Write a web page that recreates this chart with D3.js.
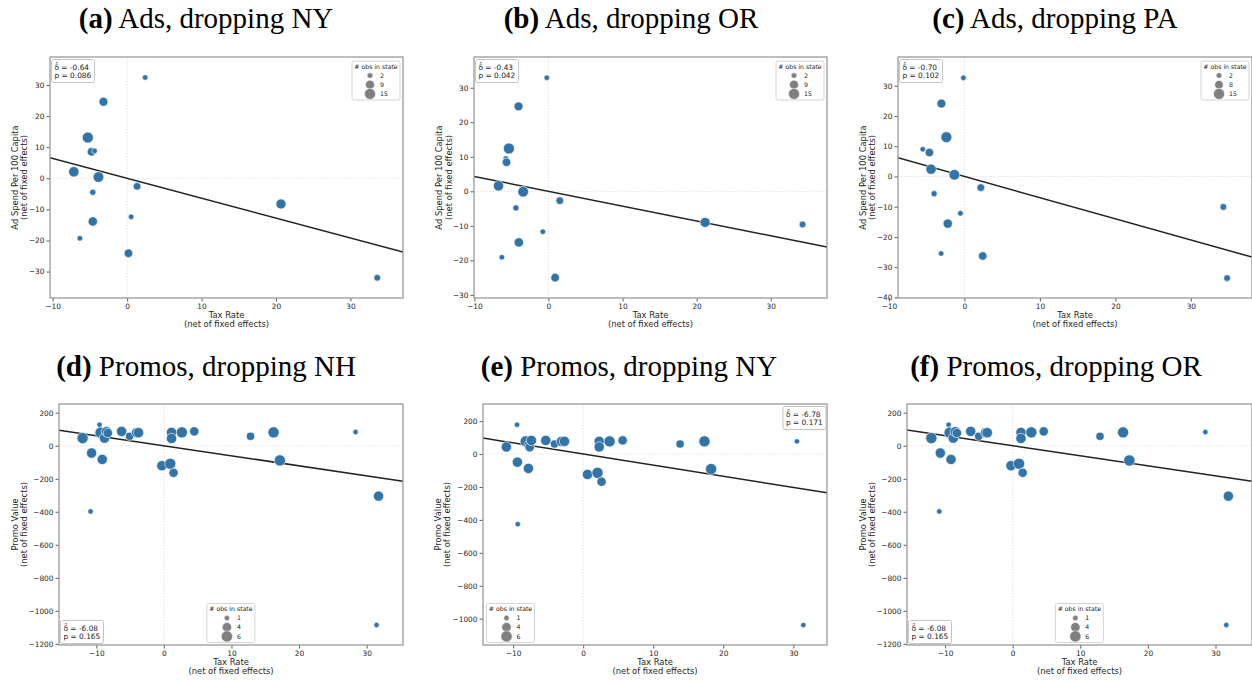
<!DOCTYPE html>
<html>
<head>
<meta charset="utf-8">
<script src="https://cdn.jsdelivr.net/npm/d3@7"></script>
<style>
body { margin: 0; background: #fff; }
svg text { font-family: "DejaVu Sans", sans-serif; }
svg text.title { font-family: "Liberation Serif", serif; }
</style>
</head>
<body>
<svg id="chart" width="1252" height="681"></svg>
<script>

// ---- data ----
// (a) Ads, dropping NY
var adsNY_x = [2.42, -3.18, -5.28, -4.79, -4.38, -7.16, -3.85, 1.34, -4.61, 20.67, 0.54, -4.61, -6.35, 0.18, 33.6];
var adsNY_y = [32.4, 24.6, 13.1, 8.5, 8.8, 2.1, 0.4, -2.6, -4.5, -8.25, -12.4, -13.9, -19.3, -24.1, -32.0];
var adsNY_n = [2, 9, 15, 8, 2, 13, 14, 6, 3, 12, 2, 10, 2, 8, 4];

// (b) Ads, dropping OR
var adsOR_x = [-0.22, -4.04, -5.34, -5.75, -5.66, -6.74, -3.41, 1.53, -4.4, 21.15, 34.3, -0.76, -4.0, -6.29, 0.9];
var adsOR_y = [32.9, 24.6, 12.4, 9.5, 8.4, 1.6, -0.1, -2.7, -4.8, -9.0, -9.6, -11.7, -14.8, -19.1, -25.0];
var adsOR_n = [2, 9, 15, 2, 8, 13, 14, 6, 3, 12, 4, 2, 10, 2, 8];

// (c) Ads, dropping PA
var adsPA_x = [-0.13, -3.05, -2.39, -5.52, -4.64, -4.42, -1.33, 2.17, -4.02, 34.3, -0.53, -2.21, -3.09, 2.43, 34.8];
var adsPA_y = [32.6, 24.1, 13.0, 9.0, 7.9, 2.4, 0.55, -3.7, -5.7, -10.1, -12.2, -15.6, -25.5, -26.3, -33.6];
var adsPA_n = [2, 9, 15, 2, 8, 13, 14, 6, 3, 4, 2, 10, 2, 8, 4];

// (d) Promos, dropping NH
var promoNH_x = [-12.03, -9.52, -9.37, -8.78, -8.48, -8.29, -10.70, -9.12, -10.85, -6.26, -5.08, -4.04, -3.75, -0.30, 0.94, 1.43, 1.13, 1.13, 2.66, 4.49, 12.82, 16.23, 17.16, 28.36, 31.76, 31.47];
var promoNH_y = [46, 127, 79, 46, 85, 77, -44, -83, -398, 87, 57, 79, 79, -121, -109, -164, 81, 44, 81, 87, 57, 81, -89, 83, -305, -1086];
var promoNH_n = [6, 1, 6, 5, 5, 4, 5, 5, 1, 5, 3, 5, 5, 5, 6, 4, 5, 5, 6, 4, 3, 6, 6, 1, 5, 1];

// (e) Promos, dropping NY
var promoNY_x = [-9.44, -10.97, -9.39, -9.34, -8.2, -7.72, -7.63, -7.39, -7.82, -5.34, -4.10, -3.10, -2.67, 0.62, 2.05, 2.62, 2.29, 2.29, 3.77, 5.63, 13.83, 17.31, 18.26, 30.51, 31.42];
var promoNY_y = [178, 43, -49, -426, 77, 53, 41, 83, -87, 83, 61, 77, 77, -124, -114, -168, 77, 43, 77, 83, 61, 77, -91, 77, -1039];
var promoNY_n = [1, 5, 5, 1, 6, 5, 4, 5, 5, 5, 3, 5, 5, 5, 6, 4, 5, 5, 6, 4, 3, 6, 6, 1, 1];

// (f) Promos, dropping OR
var promoOR_x = [-12.03, -9.47, -9.32, -8.78, -8.48, -8.24, -10.70, -9.12, -10.85, -6.21, -5.03, -4.0, -3.75, -0.25, 0.94, 1.48, 1.23, 1.23, 2.76, 4.59, 12.92, 16.33, 17.26, 28.5, 31.9, 31.6];
var promoOR_y = [46, 127, 79, 46, 85, 77, -44, -83, -398, 87, 57, 79, 79, -121, -109, -164, 81, 44, 81, 87, 57, 81, -89, 83, -305, -1086];
var promoOR_n = [6, 1, 6, 5, 5, 4, 5, 5, 1, 5, 3, 5, 5, 5, 6, 4, 5, 5, 6, 4, 3, 6, 6, 1, 5, 1];

var letters = ["(a)", "(b)", "(c)", "(d)", "(e)", "(f)"];
var titles = ["Ads, dropping NY", "Ads, dropping OR", "Ads, dropping PA",
              "Promos, dropping NH", "Promos, dropping NY", "Promos, dropping OR"];
var deltas = [-0.64, -0.43, -0.70, -6.08, -6.78, -6.08];
var pvals = ["0.086", "0.042", "0.102", "0.165", "0.171", "0.165"];
var legendSizes = [[2, 9, 15], [2, 9, 15], [2, 8, 15], [1, 4, 6], [1, 4, 6], [1, 4, 6]];
var adsYTicks = [-30, -20, -10, 0, 10, 20, 30];
var adsPAYTicks = [-40, -30, -20, -10, 0, 10, 20, 30];
var promoYTicks = [-1200, -1000, -800, -600, -400, -200, 0, 200];
var promoNYYTicks = [-1000, -800, -600, -400, -200, 0, 200];
var xTicks = [-10, 0, 10, 20, 30];

// ---- layout ----
var panels = [
  { xs: adsNY_x, ys: adsNY_y, ns: adsNY_n, box: [50, 57, 403, 298], xDom: [-10.36, 37.06], yDom: [-38.5, 39.0],
    yTicks: adsYTicks, ylab: "Ad Spend Per 100 Capita", yOff: [35, 26], ann: "tl", leg: "tr", tx: 206, ty: 28 },
  { xs: adsOR_x, ys: adsOR_y, ns: adsOR_n, box: [474, 57, 827, 298], xDom: [-10.05, 37.6], yDom: [-30.9, 38.9],
    yTicks: adsYTicks, ylab: "Ad Spend Per 100 Capita", yOff: [35, 25], ann: "tl", leg: "tr", tx: 631, ty: 28 },
  { xs: adsPA_x, ys: adsPA_y, ns: adsPA_n, box: [898, 57, 1252, 298], xDom: [-8.8, 38.1], yDom: [-40.2, 39.5],
    yTicks: adsPAYTicks, ylab: "Ad Spend Per 100 Capita", yOff: [35, 26], ann: "tl", leg: "tr", tx: 1055, ty: 28 },
  { xs: promoNH_x, ys: promoNH_y, ns: promoNH_n, box: [59, 404, 403, 645], xDom: [-15.52, 35.38], yDom: [-1207, 252.8],
    yTicks: promoYTicks, ylab: "Promo Value", yOff: [44, 35], ann: "bl", leg: "bc", tx: 206, ty: 376 },
  { xs: promoNY_x, ys: promoNY_y, ns: promoNY_n, box: [483, 404, 827, 645], xDom: [-14.3, 34.8], yDom: [-1160, 304],
    yTicks: promoNYYTicks, ylab: "Promo Value", yOff: [45, 36], ann: "tr", leg: "bl", tx: 629, ty: 376 },
  { xs: promoOR_x, ys: promoOR_y, ns: promoOR_n, box: [907, 404, 1252, 645], xDom: [-15.63, 35.4], yDom: [-1207, 252.8],
    yTicks: promoYTicks, ylab: "Promo Value", yOff: [44, 35], ann: "bl", leg: "bc", tx: 1056, ty: 376 }
];

var dotColor = "#3274a8";
var svg = d3.select("#chart");
var fmt = function (d) { return d < 0 ? "\u2212" + Math.abs(d) : "" + d; };

panels.forEach(function (p, i) {
  var g = svg.append("g");
  var L = p.box[0], T = p.box[1], R = p.box[2], B = p.box[3];
  var x = d3.scaleLinear().domain(p.xDom).range([L, R]);
  var y = d3.scaleLinear().domain(p.yDom).range([B, T]);

  var ns = p.ns;
  var nExt = d3.extent(legendSizes[i]);
  var rMin = i < 3 ? 2.8 : 2.7, rMax = i < 3 ? 5.5 : 5.6;
  var area = d3.scaleLinear().domain(nExt).range([rMin * rMin, rMax * rMax]);
  var rad = function (n) { return Math.sqrt(area(n)); };

  var clipId = "clip" + i;
  g.append("clipPath").attr("id", clipId).append("rect")
    .attr("x", L).attr("y", T).attr("width", R - L).attr("height", B - T);

  // zero reference lines
  g.append("line").attr("x1", x(0)).attr("x2", x(0)).attr("y1", T).attr("y2", B)
    .attr("stroke", "#d8d8d8").attr("stroke-width", 0.7).attr("stroke-dasharray", "1.5,1.5");
  g.append("line").attr("x1", L).attr("x2", R).attr("y1", y(0)).attr("y2", y(0))
    .attr("stroke", "#d8d8d8").attr("stroke-width", 0.7).attr("stroke-dasharray", "1.5,1.5");

  // fitted line through origin
  var xd = x.domain();
  g.append("line").attr("clip-path", "url(#" + clipId + ")")
    .attr("x1", x(xd[0])).attr("y1", y(deltas[i] * xd[0]))
    .attr("x2", x(xd[1])).attr("y2", y(deltas[i] * xd[1]))
    .attr("stroke", "#222").attr("stroke-width", 1.5);

  // dots
  var pts = p.xs.map(function (v, k) { return { x: v, y: p.ys[k], n: ns[k] }; });
  g.append("g").attr("clip-path", "url(#" + clipId + ")")
    .selectAll("circle").data(pts).enter().append("circle")
    .attr("cx", function (d) { return x(d.x); })
    .attr("cy", function (d) { return y(d.y); })
    .attr("r", function (d) { return rad(d.n); })
    .attr("fill", dotColor)
    .attr("stroke", "#fff").attr("stroke-width", 0.6);

  // axes
  var ax = g.append("g").attr("transform", "translate(0," + B + ")")
    .call(d3.axisBottom(x).tickValues(xTicks).tickSize(3.5).tickPadding(2).tickFormat(fmt));
  var ay = g.append("g").attr("transform", "translate(" + L + ",0)")
    .call(d3.axisLeft(y).tickValues(p.yTicks).tickSize(3.5).tickPadding(2).tickFormat(fmt));
  [ax, ay].forEach(function (a) {
    a.select(".domain").remove();
    a.selectAll("line").attr("stroke", "#333").attr("stroke-width", 0.8);
    a.selectAll("text").style("font-size", "7.4px").attr("fill", "#262626");
  });

  // frame
  g.append("rect").attr("x", L).attr("y", T).attr("width", R - L).attr("height", B - T)
    .attr("fill", "none").attr("stroke", "#9a9a9a").attr("stroke-width", 1.3);

  // axis labels
  var cx = (L + R) / 2;
  g.append("text").attr("x", cx).attr("y", B + 20).attr("text-anchor", "middle")
    .style("font-size", "8.4px").attr("fill", "#262626").text("Tax Rate");
  g.append("text").attr("x", cx).attr("y", B + 29.3).attr("text-anchor", "middle")
    .style("font-size", "8.4px").attr("fill", "#262626").text("(net of fixed effects)");
  var cy = (T + B) / 2;
  g.append("text").attr("transform", "translate(" + (L - p.yOff[0] + 3) + "," + cy + ") rotate(-90)")
    .attr("text-anchor", "middle").style("font-size", "8.4px").attr("fill", "#262626").text(p.ylab);
  g.append("text").attr("transform", "translate(" + (L - p.yOff[1] + 3) + "," + cy + ") rotate(-90)")
    .attr("text-anchor", "middle").style("font-size", "8.4px").attr("fill", "#262626").text("(net of fixed effects)");

  // estimate box
  var aw = 43, ah = 23, axp, ayp;
  if (p.ann === "tl") { axp = L + 1.5; ayp = T + 2.5; }
  else if (p.ann === "bl") { axp = L + 1.5; ayp = B - ah - 1.5; }
  else { axp = R - aw - 1; ayp = T + 2.5; }
  var ag = g.append("g").attr("transform", "translate(" + axp + "," + ayp + ")");
  ag.append("rect").attr("width", aw).attr("height", ah).attr("rx", 2)
    .attr("fill", "#fff").attr("fill-opacity", 0.85).attr("stroke", "#bdbdbd").attr("stroke-width", 0.9);
  ag.append("text").attr("x", 3).attr("y", 10).style("font-size", "7.4px").attr("fill", "#222")
    .text("\u03b4\u0302 = " + deltas[i].toFixed(2));
  ag.append("text").attr("x", 3).attr("y", 18.5).style("font-size", "7.4px").attr("fill", "#222")
    .text("p = " + pvals[i]);

  // size legend
  var lw = 48, lh = 39, lx, ly;
  if (p.leg === "tr") { lx = R - lw - 3; ly = T + 4; }
  else if (p.leg === "bc") { lx = L + (R - L) * 0.43; ly = B - lh - 2.5; }
  else { lx = L + 3.5; ly = B - lh - 2.5; }
  var lg = g.append("g").attr("transform", "translate(" + lx + "," + ly + ")");
  lg.append("rect").attr("width", lw).attr("height", lh).attr("rx", 2)
    .attr("fill", "#fff").attr("fill-opacity", 0.85).attr("stroke", "#cfcfcf").attr("stroke-width", 0.9);
  lg.append("text").attr("x", lw / 2).attr("y", 7.5).attr("text-anchor", "middle")
    .style("font-size", "6.2px").attr("fill", "#222").text("# obs in state");
  var mx = i < 3 ? 18 : 20, tx0 = i < 3 ? 28 : 30;
  legendSizes[i].forEach(function (s, k) {
    var yy = 14.5 + k * 9.2;
    lg.append("circle").attr("cx", mx).attr("cy", yy).attr("r", rad(s))
      .attr("fill", "#808080").attr("stroke", "#fff").attr("stroke-width", 0.5);
    lg.append("text").attr("x", tx0).attr("y", yy + 2.2).style("font-size", "6.2px")
      .attr("fill", "#222").text(s);
  });

  // title
  var t = svg.append("text").attr("class", "title").attr("x", p.tx).attr("y", p.ty)
    .attr("text-anchor", "middle").style("font-size", "29px").attr("fill", "#000");
  t.append("tspan").attr("font-weight", "bold").text(letters[i]);
  t.append("tspan").text(" " + titles[i]);
});
</script>
</body>
</html>
